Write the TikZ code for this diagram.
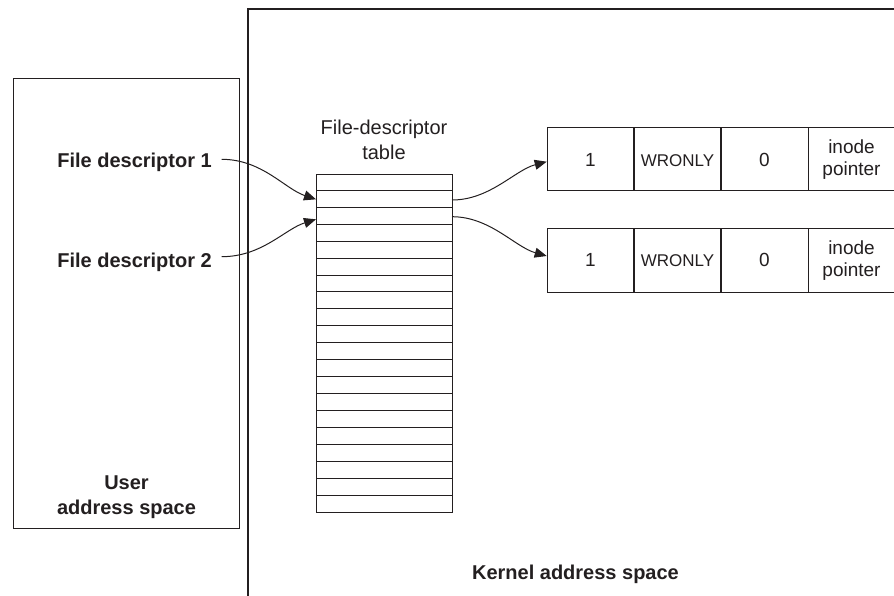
\documentclass[tikz,border=0pt]{standalone}
\usepackage{fontspec}
\setmainfont{Liberation Sans}
\usetikzlibrary{arrows.meta}
\definecolor{ink}{HTML}{231F20}
\begin{document}
\begin{tikzpicture}[x=1pt,y=-1pt,
  line/.style={line width=1.1pt, draw=ink},
  box/.style={line, inner sep=0, anchor=north west},
  lab/.style={font=\fontsize{20}{24}\selectfont\bfseries, text=ink, inner sep=0, anchor=base},
  txt/.style={font=\fontsize{20}{25}\selectfont, text=ink, inner sep=0, anchor=base},
  celltxt/.style={font=\fontsize{19}{22}\selectfont, text=ink, inner sep=0, anchor=base},
  flagtxt/.style={font=\fontsize{17}{20}\selectfont, text=ink, inner sep=0, anchor=base},
  arr/.style={line width=1pt, draw=ink, -{Triangle[length=12pt,width=10pt]}}]

\useasboundingbox (0,0) rectangle (894,595);

% user address space
\node[box, minimum width=225.7pt, minimum height=450.6pt] (user) at (13.3,77.7) {};
\node[lab] (u1) at (126.5,489) {User};
\node[lab] (u2) at (126.5,514) {address space};

% kernel address space
\coordinate (kbot) at (248,597);
\coordinate (kcorner) at (248,9);
\coordinate (kright) at (897,9);
\draw[line] (kbot) -- (kcorner) -- (kright);
\node[lab] (kl) at (575.5,579) {Kernel address space};

% file descriptor table
\node[box, minimum width=136pt, minimum height=338.5pt] (tab) at (316,173.5) {};
\foreach \i in {1,...,19} {
  \pgfmathsetmacro{\yy}{round(\i*16.925)}
  \draw[line] ([yshift={-\yy pt}]tab.north west) -- ([yshift={-\yy pt}]tab.north east);
}
\node[txt] (tl1) at (384,134) {File-descriptor};
\node[txt] (tl2) at (384,159) {table};

% labels in user space
\node[lab, anchor=base east] (fd1) at (212,167.3) {File descriptor 1};
\node[lab, anchor=base east] (fd2) at (212,267) {File descriptor 2};
\coordinate (fd1s) at (221.7,159.3);
\coordinate (fd2s) at (221.7,256.7);
\coordinate (t2w) at (316,199.3);
\coordinate (t3w) at (316,219.3);
\coordinate (t2e) at (452,200);
\coordinate (t3e) at (452,216.7);

% open-file records
\node[box, minimum width=348.3pt, minimum height=62.7pt] (r1) at (546.7,127.3) {};
\node[box, minimum width=348.3pt, minimum height=63.4pt] (r2) at (546.7,228.3) {};
\foreach \r in {r1,r2} {
  \foreach \d in {87.3,174.3,261.6} {
    \draw[line] ([xshift=\d pt]\r.north west) -- ([xshift=\d pt]\r.south west);
  }
}
\coordinate (r1w) at (546.7,161.7);
\coordinate (r2w) at (546.7,256);

\node[celltxt] (a1) at (590.5,166.8) {1};
\node[flagtxt] (b1) at (677.5,166.1) {WRONLY};
\node[celltxt] (c1) at (764.5,166.8) {0};
\node[celltxt] (d1) at (851.5,153.3) {inode};
\node[celltxt] (e1) at (851.5,175.3) {pointer};

\node[celltxt] (a2) at (590.5,266.8) {1};
\node[flagtxt] (b2) at (677.5,266.1) {WRONLY};
\node[celltxt] (c2) at (764.5,266.8) {0};
\node[celltxt] (d2) at (851.5,254.3) {inode};
\node[celltxt] (e2) at (851.5,276.3) {pointer};

% connectors
\draw[arr] (fd1s) .. controls (262,159.3) and (285,189) .. (t2w);
\draw[arr] (fd2s) .. controls (262,256.7) and (285,229) .. (t3w);
\draw[arr] (t2e) .. controls (490,200) and (515,170) .. (r1w);
\draw[arr] (t3e) .. controls (490,216.7) and (515,247) .. (r2w);
\end{tikzpicture}
\end{document}
